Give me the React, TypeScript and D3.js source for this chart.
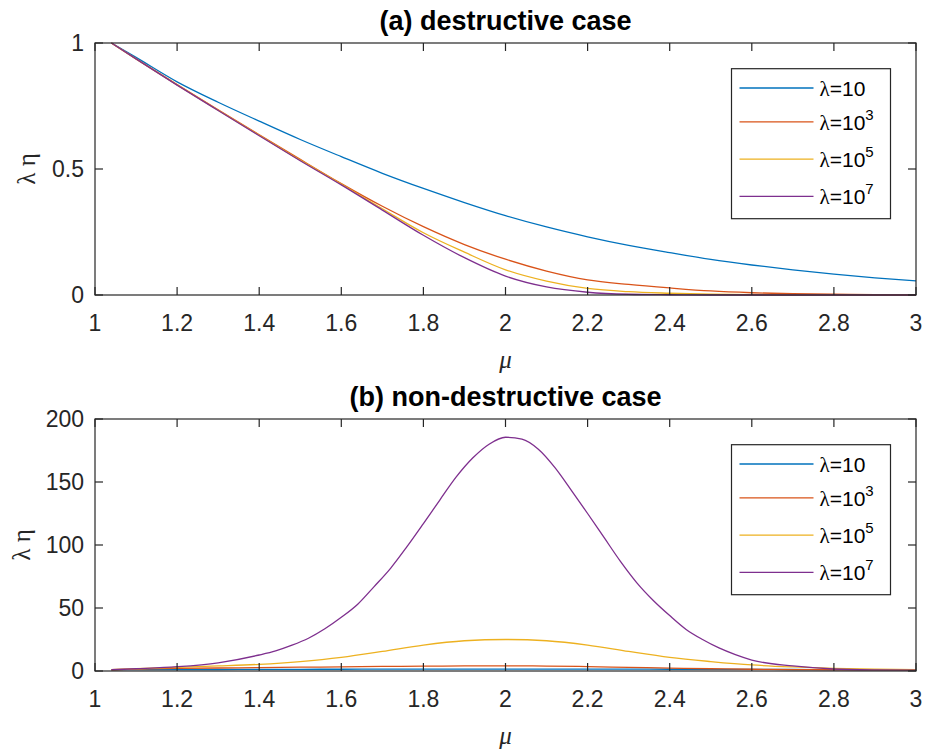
import React, { useEffect, useRef } from "react";
import * as d3 from "d3";

// mu sample points
const muA = [1.04, 1.1, 1.2, 1.3, 1.4, 1.5, 1.6, 1.7, 1.8, 1.9, 2.0, 2.1, 2.2, 2.3, 2.4, 2.5, 2.6, 2.7, 2.8, 2.9, 3.0];

// (a) destructive case
const destr10 = [1.0, 0.943, 0.846, 0.765, 0.69, 0.617, 0.549, 0.483, 0.423, 0.367, 0.315, 0.27, 0.231, 0.197, 0.168, 0.141, 0.119, 0.1, 0.083, 0.068, 0.056];
const destr1e3 = [1.0, 0.937, 0.835, 0.735, 0.636, 0.538, 0.442, 0.352, 0.271, 0.2, 0.142, 0.095, 0.06, 0.042, 0.028, 0.016, 0.009, 0.005, 0.003, 0.001, 0.0005];
const destr1e5 = [1.0, 0.937, 0.834, 0.733, 0.634, 0.535, 0.44, 0.342, 0.247, 0.17, 0.1, 0.055, 0.026, 0.013, 0.007, 0.003, 0.001, 0, 0, 0, 0];
const destr1e7 = [1.0, 0.937, 0.833, 0.732, 0.632, 0.533, 0.437, 0.337, 0.237, 0.148, 0.075, 0.032, 0.011, 0.003, 0.001, 0, 0, 0, 0, 0, 0];

// (b) non-destructive case
const nond10 = [1, 1.05, 1.12, 1.2, 1.27, 1.34, 1.4, 1.45, 1.5, 1.52, 1.53, 1.52, 1.5, 1.45, 1.4, 1.34, 1.27, 1.2, 1.12, 1.05, 1];
const nond1e3 = [1, 1.5, 2.1, 2.4, 2.7, 3.0, 3.3, 3.6, 3.8, 4.0, 4.1, 3.9, 3.5, 2.9, 2.3, 1.8, 1.4, 1.15, 1.0, 0.9, 0.8];
const nond1e5 = [1, 1.8, 2.9, 4, 5.3, 7.5, 10.8, 15.5, 20.6, 24, 25, 24, 20.6, 15.5, 10.8, 7.5, 4.8, 3.2, 2.1, 1.4, 1];
const muPurple = [1.04, 1.1, 1.2, 1.3, 1.4, 1.44, 1.48, 1.52, 1.56, 1.6, 1.64, 1.68, 1.72, 1.76, 1.8, 1.84, 1.88, 1.92, 1.96, 2.0,
    2.04, 2.08, 2.12, 2.16, 2.2, 2.24, 2.28, 2.32, 2.36, 2.4, 2.44, 2.48, 2.52, 2.56, 2.6, 2.7, 2.8, 2.9, 3.0];
const nond1e7 = [1, 1.8, 3.4, 6.5, 12.7, 16, 20.5, 26, 33.5, 42.6, 53, 67, 81.5, 98.7, 117, 135.7, 154, 169, 180, 185.5,
    184, 176, 161.6, 143.6, 125, 106, 87, 70, 56, 44, 33, 25, 18.3, 13, 8.7, 4, 1.6, 0.9, 0.7];

const xTicks = [1, 1.2, 1.4, 1.6, 1.8, 2, 2.2, 2.4, 2.6, 2.8, 3];
const yTicksA = [0, 0.5, 1];
const yTicksB = [0, 50, 100, 150, 200];
const legendExp = ["", "3", "5", "7"];
const colors = ["#0072BD", "#D95319", "#EDB120", "#7E2F8E"];

const axisColor = "#262626";
const sans = "'Liberation Sans', Arial, sans-serif";
const serif = "'Liberation Serif', 'Times New Roman', serif";

const App: React.FC = () => {
    const svgRef = useRef<SVGSVGElement | null>(null);

    useEffect(() => {
        const svg = d3.select(svgRef.current);
        svg.selectAll("*").remove();

        const left = 95, right = 916;
        const panels = [
            {
                top: 43, bottom: 295, title: "(a) destructive case", ymax: 1, yTicks: yTicksA,
                series: [
                    { x: muA, y: destr10 }, { x: muA, y: destr1e3 }, { x: muA, y: destr1e5 }, { x: muA, y: destr1e7 }
                ]
            },
            {
                top: 419, bottom: 671, title: "(b) non-destructive case", ymax: 200, yTicks: yTicksB,
                series: [
                    { x: muA, y: nond10 }, { x: muA, y: nond1e3 }, { x: muA, y: nond1e5 }, { x: muPurple, y: nond1e7 }
                ]
            }
        ];

        panels.forEach((p) => {
            const x = d3.scaleLinear().domain([1, 3]).range([left, right]);
            const y = d3.scaleLinear().domain([0, p.ymax]).range([p.bottom, p.top]);
            const g = svg.append("g");

            // curves
            p.series.forEach((s, i) => {
                const pts = s.x.map((m, k) => [m, s.y[k]] as [number, number]);
                const line = d3.line<[number, number]>()
                    .x((d) => x(d[0]))
                    .y((d) => y(d[1]))
                    .curve(d3.curveMonotoneX);
                g.append("path")
                    .datum(pts)
                    .attr("fill", "none")
                    .attr("stroke", colors[i])
                    .attr("stroke-width", 1.3)
                    .attr("d", line);
            });

            // box
            g.append("rect")
                .attr("x", left).attr("y", p.top)
                .attr("width", right - left).attr("height", p.bottom - p.top)
                .attr("fill", "none").attr("stroke", axisColor).attr("stroke-width", 1.2);

            const tl = 8;
            xTicks.forEach((t) => {
                g.append("line").attr("x1", x(t)).attr("x2", x(t)).attr("y1", p.bottom).attr("y2", p.bottom - tl)
                    .attr("stroke", axisColor).attr("stroke-width", 1.2);
                g.append("line").attr("x1", x(t)).attr("x2", x(t)).attr("y1", p.top).attr("y2", p.top + tl)
                    .attr("stroke", axisColor).attr("stroke-width", 1.2);
                g.append("text").attr("x", x(t)).attr("y", p.bottom + 36)
                    .attr("text-anchor", "middle").attr("fill", axisColor)
                    .style("font-family", sans).style("font-size", "23px")
                    .text(String(t));
            });
            p.yTicks.forEach((t) => {
                g.append("line").attr("x1", left).attr("x2", left + tl).attr("y1", y(t)).attr("y2", y(t))
                    .attr("stroke", axisColor).attr("stroke-width", 1.2);
                g.append("line").attr("x1", right).attr("x2", right - tl).attr("y1", y(t)).attr("y2", y(t))
                    .attr("stroke", axisColor).attr("stroke-width", 1.2);
                g.append("text").attr("x", left - 11).attr("y", y(t) + 8)
                    .attr("text-anchor", "end").attr("fill", axisColor)
                    .style("font-family", sans).style("font-size", "23px")
                    .text(String(t));
            });

            // title
            g.append("text").attr("x", (left + right) / 2).attr("y", p.top - 13)
                .attr("text-anchor", "middle").attr("fill", "#000")
                .style("font-family", sans).style("font-size", "27px").style("font-weight", "bold")
                .text(p.title);

            // axis labels
            g.append("text").attr("x", (left + right) / 2).attr("y", p.bottom + 73)
                .attr("text-anchor", "middle").attr("fill", axisColor)
                .style("font-family", serif).style("font-style", "italic").style("font-size", "25px")
                .text("μ");
            const yl = p.ymax > 1 ? 30 : 35;
            g.append("text")
                .attr("transform", `translate(${yl},${(p.top + p.bottom) / 2}) rotate(-90)`)
                .attr("text-anchor", "middle").attr("fill", axisColor)
                .style("font-family", serif).style("font-size", "25px")
                .text("λ η");

            // legend
            const lx = 731.5, ly = p.top + 25.7;
            const lg = g.append("g");
            lg.append("rect").attr("x", lx).attr("y", ly).attr("width", 159).attr("height", 150)
                .attr("fill", "#fff").attr("stroke", axisColor).attr("stroke-width", 1.2);
            const rowY = [19.3, 53.2, 90.5, 127.6];
            legendExp.forEach((e, i) => {
                const yy = ly + rowY[i];
                lg.append("line").attr("x1", lx + 8).attr("x2", lx + 82).attr("y1", yy).attr("y2", yy)
                    .attr("stroke", colors[i]).attr("stroke-width", 1.3);
                const t = lg.append("text").attr("x", lx + 88).attr("y", yy + 8).attr("fill", "#000")
                    .style("font-family", sans).style("font-size", "21px");
                t.append("tspan").style("font-family", serif).text("λ");
                t.append("tspan").text("=10");
                if (e) {
                    t.append("tspan").attr("dy", -10).style("font-size", "15px").text(e);
                }
            });
        });
    }, []);

    return (
        <div>
            <svg ref={svgRef} width={927} height={752}
                style={{ position: "absolute", left: 0, top: 0, background: "#fff" }}></svg>
        </div>
    );
};

export default App;
